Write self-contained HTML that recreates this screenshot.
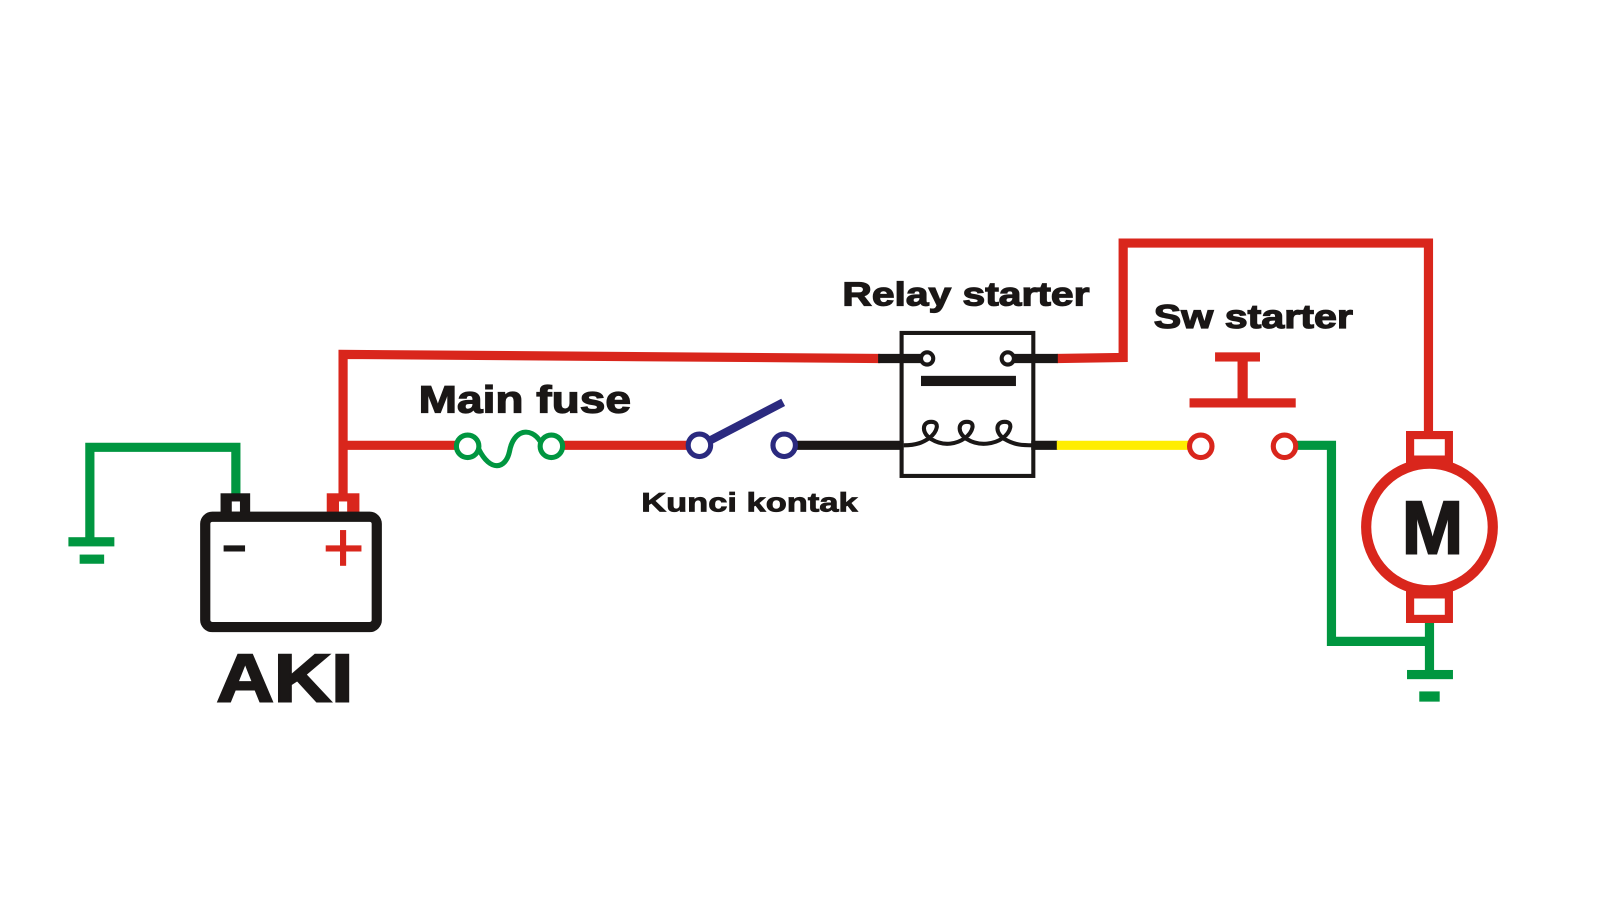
<!DOCTYPE html>
<html><head><style>body{margin:0;background:#fff}svg{display:block}</style></head><body>
<svg width="1600" height="911" viewBox="0 0 1567 892" preserveAspectRatio="none" xmlns="http://www.w3.org/2000/svg" font-family="Liberation Sans, sans-serif" font-weight="bold">
<rect width="1567" height="892" fill="#fff"/>
<g fill="none" stroke-width="9">
<polyline points="336,500 336,347 862,351" stroke="#d9261c"/>
<line x1="336" y1="436" x2="447" y2="436" stroke="#d9261c"/>
<line x1="551" y1="436" x2="674" y2="436" stroke="#d9261c"/>
<polyline points="1035,351 1100,350 1100,238 1399,238 1399,424" stroke="#d9261c"/>
<line x1="860" y1="351" x2="902" y2="351" stroke="#1a1716"/>
<line x1="993" y1="351" x2="1036" y2="351" stroke="#1a1716"/>
<line x1="780" y1="436" x2="885" y2="436" stroke="#1a1716"/>
<line x1="1010" y1="436" x2="1036" y2="436" stroke="#1a1716"/>
<line x1="1035" y1="436" x2="1165" y2="436" stroke="#ffed00"/>
<polyline points="1269,436 1304,436 1304,628 1400,628" stroke="#009640"/>
<line x1="1400" y1="605" x2="1400" y2="660" stroke="#009640"/>
<polyline points="231,492 231,438 88,438 88,530" stroke="#009640"/>
</g>
<rect x="67" y="526" width="45" height="9" fill="#009640"/>
<rect x="78" y="543" width="24" height="9" fill="#009640"/>
<rect x="1378" y="656" width="45" height="9" fill="#009640"/>
<rect x="1390" y="677" width="20" height="10" fill="#009640"/>
<g fill="none" stroke="#009640" stroke-width="5">
<circle cx="458" cy="437" r="11" fill="#fff"/>
<circle cx="540" cy="437" r="11" fill="#fff"/>
<path d="M469,440 C480,462 495,460 499,442 C503,420 520,418 529,432"/>
</g>
<g fill="#fff" stroke="#2b2a7f" stroke-width="5">
<circle cx="685" cy="436" r="11"/>
<circle cx="768" cy="436" r="11"/>
</g>
<line x1="696" y1="431" x2="767" y2="394" stroke="#2b2a7f" stroke-width="8"/>
<rect x="883" y="326" width="129" height="140" fill="none" stroke="#1a1716" stroke-width="4"/>
<g fill="#fff" stroke="#1a1716" stroke-width="4">
<circle cx="908" cy="351" r="6"/>
<circle cx="987" cy="351" r="6"/>
</g>
<rect x="902" y="368" width="93" height="10" fill="#1a1716"/>
<path d="M885,436 C898,436 904,433 910,429 C918,423 921,413 912,413 C902,413 903,425 912,430 C925,438 938,434 945,429 C953,423 956,413 947,413 C937,413 938,425 947,430 C960,438 975,434 982,429 C990,423 993,413 984,413 C974,413 975,425 984,430 C994,436 1002,436 1012,436" fill="none" stroke="#1a1716" stroke-width="4"/>
<g fill="#fff" stroke="#d9261c" stroke-width="5">
<circle cx="1176" cy="437" r="11"/>
<circle cx="1258" cy="437" r="11"/>
</g>
<rect x="1165" y="390" width="104" height="9" fill="#d9261c"/>
<rect x="1212" y="350" width="10" height="45" fill="#d9261c"/>
<rect x="1190" y="345" width="44" height="9" fill="#d9261c"/>
<rect x="1381" y="426" width="38" height="24" fill="#fff" stroke="#d9261c" stroke-width="8"/>
<rect x="1381" y="582" width="38" height="24" fill="#fff" stroke="#d9261c" stroke-width="8"/>
<circle cx="1400" cy="516" r="62" fill="#fff" stroke="#d9261c" stroke-width="10"/>
<text x="1373" y="542" font-size="74" textLength="60" lengthAdjust="spacingAndGlyphs" fill="#1a1716" stroke="#1a1716" stroke-width="2">M</text>
<rect x="216" y="483" width="29" height="24" fill="#1a1716"/>
<rect x="227" y="491" width="8" height="10" fill="#fff"/>
<rect x="320" y="483" width="32" height="24" fill="#d9261c"/>
<rect x="332" y="491" width="8" height="10" fill="#fff"/>
<rect x="201" y="506" width="168" height="108" rx="7" fill="#fff" stroke="#1a1716" stroke-width="10"/>
<rect x="219" y="534" width="21" height="6" fill="#1a1716"/>
<rect x="319" y="534" width="35" height="6" fill="#d9261c"/>
<rect x="333" y="519" width="6" height="35" fill="#d9261c"/>
<g fill="#1a1716" stroke="#1a1716">
<text x="825" y="299" font-size="33" stroke-width="1.2" textLength="242" lengthAdjust="spacingAndGlyphs">Relay starter</text>
<text x="1130" y="321" font-size="33" stroke-width="1.2" textLength="195" lengthAdjust="spacingAndGlyphs">Sw starter</text>
<text x="410" y="404" font-size="37" stroke-width="1.2" textLength="208" lengthAdjust="spacingAndGlyphs">Main fuse</text>
<text x="628" y="501" font-size="26" stroke-width="0.8" textLength="212" lengthAdjust="spacingAndGlyphs">Kunci kontak</text>
<text x="212" y="687" font-size="66" stroke-width="2" textLength="134" lengthAdjust="spacingAndGlyphs">AKI</text>
</g>
</svg>
</body></html>
